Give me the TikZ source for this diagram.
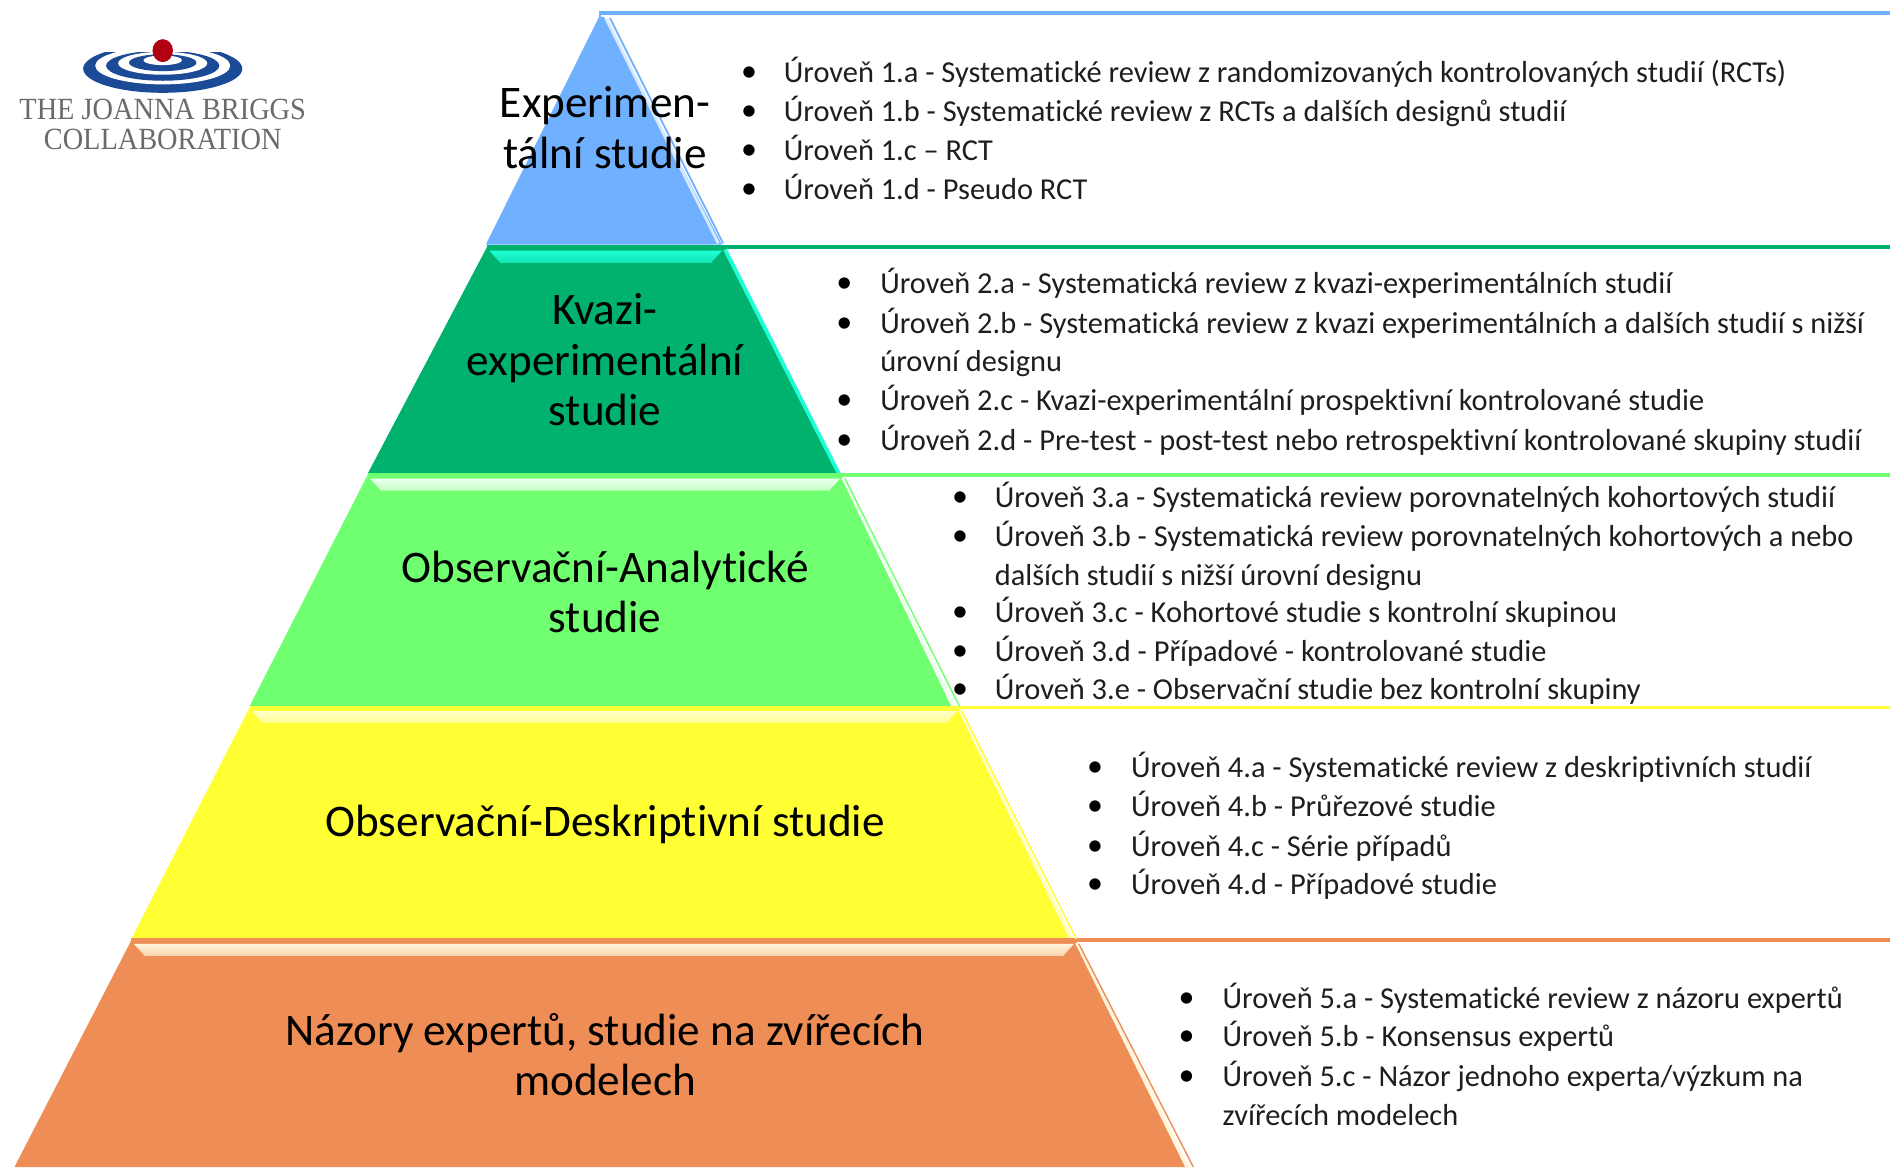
\documentclass[tikz,border=0pt]{standalone}
\usepackage{fontspec}
\setmainfont[RawFeature={-liga;-clig;-dlig}]{Carlito}
\newfontfamily\logofont[FakeStretch=0.92]{Liberation Serif}
\definecolor{blueT}{HTML}{70B1FF}
\definecolor{blueL}{HTML}{D5E8FF}
\definecolor{greenT}{HTML}{00B26E}
\definecolor{greenL}{HTML}{1EFFD6}
\definecolor{limeT}{HTML}{70FF70}
\definecolor{limeL}{HTML}{EEFFEE}
\definecolor{yellowT}{HTML}{FFFF33}
\definecolor{yellowL}{HTML}{FFFFC4}
\definecolor{orangeT}{HTML}{EE8D55}
\definecolor{orangeL}{HTML}{FFF6DC}
\definecolor{logoblue}{HTML}{1B4A96}
\definecolor{logored}{HTML}{B00012}
\definecolor{logogray}{HTML}{6A6A6A}
\definecolor{bodytext}{HTML}{1E1E1E}
\tikzset{
  tierlabel/.style={inner sep=0pt,align=center,text=black,font=\fontsize{22.6}{25.3}\selectfont},
  itemtext/.style={anchor=mid west,inner sep=0pt,yshift=-2.7pt,text=bodytext,font=\fontsize{15.2}{17}\selectfont},
  itembullet/.style={inner sep=0pt,xshift=0.3pt,yshift=-0.9pt,text=black,font=\fontsize{16}{16}\selectfont},
  logotext/.style={inner sep=0pt,text=logogray,font=\logofont\fontsize{15.4}{15.4}\selectfont},
}
% name, ytop, ybot, xtl, xtr, xbl, xbr, fill, light
\newcommand{\tier}[9]{%
  \fill[#8] (#4,#2) -- (#5,#2) -- (#7,#3) -- (#6,#3) -- cycle;
  \draw[#8,line width=1.9pt] (#4,#2) -- (1568,#2);
  \shade[top color=#9,bottom color=#9!65!#8] (#4+2,#2+3) -- (#5-2,#2+3) -- (#5-11,#2+13) -- (#4+11,#2+13) -- cycle;
  \draw[#9,line width=1.9pt] (#5+0.5,#2+2) -- (#7-1,#3);
}
\newcommand{\lvlitem}[5]{% name, bullet x, text x, y, text
  \node[itembullet] (b#1) at (#2,#4) {•};
  \node[itemtext] (t#1) at (#3,#4) {#5};
}
\begin{document}
\begin{tikzpicture}[x=0.60268pt,y=-0.60268pt]
\useasboundingbox (0,0) rectangle (1568,968.2);
\fill[white] (0,0) rectangle (1568,968.2);
% pyramid
\fill[blueT] (497,14) -- (501,14) -- (599,203) -- (403,203) -- cycle;
\draw[blueT,line width=1.9pt] (497,11) -- (1568,11);
\draw[blueT,line width=1.2pt] (498,11) -- (498,22);
\draw[blueL,line width=1.4pt] (503,16) -- (596,202);
\draw[blueT,line width=0.9pt] (506,15) -- (600,202);
\tier{a}{205}{393}{404}{601}{305}{697}{greenT}{greenL}
\tier{b}{394}{586}{305}{699}{207}{792}{limeT}{limeL}
\tier{c}{587}{779}{207}{796}{109}{890}{yellowT}{yellowL}
\tier{d}{780}{968.2}{109}{893}{12}{986}{orangeT}{orangeL}
\draw[limeT,line width=0.7pt] (701,397) -- (796,586);
\draw[yellowT,line width=0.7pt] (798,590) -- (893,779);
\draw[orangeT,line width=0.7pt] (895,783) -- (990,968.2);
% logo
\fill[logoblue] (135,57) ellipse (66 and 20);
\fill[white] (135,54.5) ellipse (56 and 15.5);
\fill[logoblue] (135,54.5) ellipse (47 and 12.5);
\fill[white] (135,52.5) ellipse (37 and 9.5);
\fill[logoblue] (135,52) ellipse (28 and 7);
\fill[white] (135,50) ellipse (16 and 4);
\fill[white] (69,31) rectangle (201,43);
\fill[logored] (135,42) ellipse (8.5 and 9.5);
\node[logotext] (logo1) at (135,91) {THE JOANNA BRIGGS};
\node[logotext] (logo2) at (135,116) {COLLABORATION};
% tier labels
\node[tierlabel] (l1) at (502,106) {Experimen-\\tální studie};
\node[tierlabel] (l2) at (502,298.5) {Kvazi-\\experimentální\\studie};
\node[tierlabel] (l3) at (502,491) {Observační-Analytické\\studie};
\node[tierlabel] (l4) at (502,684) {Observační-Deskriptivní studie};
\node[tierlabel] (l5) at (502,875) {Názory expertů, studie na zvířecích\\modelech};
% items
\lvlitem{1a}{621}{650}{60}{Úroveň 1.a - Systematické review z randomizovaných kontrolovaných studií (RCTs)}
\lvlitem{1b}{621}{650}{92}{Úroveň 1.b - Systematické review z RCTs a dalších designů studií}
\lvlitem{1c}{621}{650}{125}{Úroveň 1.c – RCT}
\lvlitem{1d}{621}{650}{157}{Úroveň 1.d - Pseudo RCT}
\lvlitem{2a}{700}{730}{235}{Úroveň 2.a - Systematická review z kvazi-experimentálních studií}
\lvlitem{2b}{700}{730}{268}{Úroveň 2.b - Systematická review z kvazi experimentálních a dalších studií s nižší}
\node[itemtext] (t2bb) at (730,300) {úrovní designu};
\lvlitem{2c}{700}{730}{332}{Úroveň 2.c - Kvazi-experimentální prospektivní kontrolované studie}
\lvlitem{2d}{700}{730}{365}{Úroveň 2.d - Pre-test - post-test nebo retrospektivní kontrolované skupiny studií}
\lvlitem{3a}{796}{825}{413}{Úroveň 3.a - Systematická review porovnatelných kohortových studií}
\lvlitem{3b}{796}{825}{445}{Úroveň 3.b - Systematická review porovnatelných kohortových a nebo}
\node[itemtext] (t3bb) at (825,477) {dalších studií s nižší úrovní designu};
\lvlitem{3c}{796}{825}{508}{Úroveň 3.c - Kohortové studie s kontrolní skupinou}
\lvlitem{3d}{796}{825}{540}{Úroveň 3.d - Případové - kontrolované studie}
\lvlitem{3e}{796}{825}{572}{Úroveň 3.e - Observační studie bez kontrolní skupiny}
\lvlitem{4a}{908}{938}{637}{Úroveň 4.a - Systematické review z deskriptivních studií}
\lvlitem{4b}{908}{938}{669}{Úroveň 4.b - Průřezové studie}
\lvlitem{4c}{908}{938}{702}{Úroveň 4.c - Série případů}
\lvlitem{4d}{908}{938}{734}{Úroveň 4.d - Případové studie}
\lvlitem{5a}{984}{1014}{828}{Úroveň 5.a - Systematické review z názoru expertů}
\lvlitem{5b}{984}{1014}{860}{Úroveň 5.b - Konsensus expertů}
\lvlitem{5c}{984}{1014}{893}{Úroveň 5.c - Názor jednoho experta/výzkum na}
\node[itemtext] (t5cc) at (1014,925) {zvířecích modelech};
\end{tikzpicture}
\end{document}
